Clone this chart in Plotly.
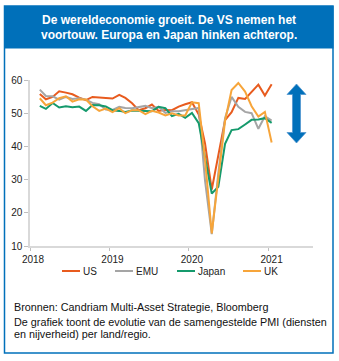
import plotly.graph_objects as go

# ---------------- data ----------------
months = [
    "2018-02-15", "2018-03-15", "2018-04-15", "2018-05-15", "2018-06-15", "2018-07-15",
    "2018-08-15", "2018-09-15", "2018-10-15", "2018-11-15", "2018-12-15",
    "2019-01-15", "2019-02-15", "2019-03-15", "2019-04-15", "2019-05-15", "2019-06-15",
    "2019-07-15", "2019-08-15", "2019-09-15", "2019-10-15", "2019-11-15", "2019-12-15",
    "2020-01-15", "2020-02-15", "2020-03-15", "2020-04-15", "2020-05-15", "2020-06-15",
    "2020-07-15", "2020-08-15", "2020-09-15", "2020-10-15", "2020-11-15", "2020-12-15",
    "2021-01-15",
]
us = [55.8, 54.2, 54.9, 56.6, 56.2, 55.7, 54.7, 53.9, 54.9, 54.7, 54.4,
      54.4, 55.5, 54.6, 53.0, 50.9, 51.5, 52.6, 50.7, 51.0, 50.9, 52.0, 52.7,
      53.3, 49.6, 40.9, 27.0, 37.0, 47.9, 50.3, 54.6, 54.3, 56.3, 58.6, 55.3,
      58.7]
emu = [57.1, 55.2, 55.1, 54.1, 54.9, 54.3, 54.5, 54.1, 53.1, 52.7, 51.1,
       51.0, 51.9, 51.6, 51.5, 51.8, 52.2, 51.5, 51.9, 50.1, 50.6, 50.6, 50.9,
       51.3, 51.6, 29.7, 13.6, 31.9, 48.5, 54.9, 51.9, 50.4, 50.0, 45.3, 49.1,
       47.8]
japan = [52.2, 51.3, 53.1, 51.7, 52.1, 51.8, 52.0, 50.7, 52.5, 52.4, 52.0,
         50.9, 50.7, 50.4, 50.8, 50.7, 50.8, 50.6, 51.9, 51.5, 49.1, 49.8, 48.6,
         50.1, 47.0, 36.2, 25.8, 27.8, 40.8, 44.9, 45.2, 46.6, 48.0, 48.1, 48.5,
         47.1]
uk = [54.5, 52.4, 53.2, 54.5, 55.1, 53.5, 54.2, 54.1, 52.1, 50.7, 51.4,
      50.3, 51.5, 50.0, 50.9, 50.9, 49.7, 50.7, 50.2, 49.3, 50.0, 49.3, 49.3,
      53.3, 53.0, 36.0, 13.8, 30.0, 47.7, 57.0, 59.1, 56.5, 52.1, 49.0, 50.4,
      41.2]

series_names = ["US", "EMU", "Japan", "UK"]
series_values = [us, emu, japan, uk]
series_colors = ["#E85B1E", "#A5A5A5", "#159A6C", "#F7A53A"]

year_ticks = ["2018-01-01", "2019-01-01", "2020-01-01", "2021-01-01"]
year_labels = ["2018", "2019", "2020", "2021"]

title_lines = ["De wereldeconomie groeit. De VS nemen het",
               "voortouw. Europa en Japan hinken achterop."]
footer_lines = ["Bronnen: Candriam Multi-Asset Strategie, Bloomberg",
                "De grafiek toont de evolutie van de samengestelde PMI (diensten",
                "en nijverheid) per land/regio."]

# ---------------- layout helpers ----------------
W, H = 339, 361
L, R, T, B = 30, 26, 80, 115
PW, PH = W - L - R, H - T - B
BLUE = "#0070BA"
FONT = "Liberation Sans, Arial, sans-serif"


def px(x):
    return (x - L) / PW


def py(y):
    return (H - B - y) / PH


fig = go.Figure()
for name, vals, col in zip(series_names, series_values, series_colors):
    fig.add_trace(go.Scatter(x=months, y=vals, mode="lines", name=name,
                             line=dict(color=col, width=2), showlegend=False))

shapes = []
annotations = []

# outer frame and banner
shapes.append(dict(type="rect", xref="paper", yref="paper",
                   x0=px(4.5), x1=px(333), y0=py(6), y1=py(353),
                   line=dict(color=BLUE, width=1.5), fillcolor="rgba(0,0,0,0)"))
shapes.append(dict(type="rect", xref="paper", yref="paper",
                   x0=px(4), x1=px(333.5), y0=py(48.5), y1=py(6),
                   line=dict(width=0), fillcolor=BLUE))
for i, t in enumerate(title_lines):
    annotations.append(dict(text="<b>%s</b>" % t, xref="paper", yref="paper",
                            x=px(168.5), y=py(20 + 15 * i), xanchor="center", yanchor="middle",
                            showarrow=False, font=dict(family=FONT, size=12, color="white")))

# double arrow
pts = [(296.5, 84), (306, 94.5), (300.5, 94.5), (300.5, 132.5), (306, 132.5),
       (296.5, 143), (287, 132.5), (292.5, 132.5), (292.5, 94.5), (287, 94.5)]
path = "M " + " L ".join("%.5f,%.5f" % (px(a), py(b)) for a, b in pts) + " Z"
shapes.append(dict(type="path", xref="paper", yref="paper", path=path,
                   fillcolor=BLUE, line=dict(color="#4F95CF", width=0.8)))

# legend
leg_x = [62, 115, 177, 243]
leg_y = 271
for lx, name, col in zip(leg_x, series_names, series_colors):
    shapes.append(dict(type="line", xref="paper", yref="paper",
                       x0=px(lx), x1=px(lx + 18), y0=py(leg_y), y1=py(leg_y),
                       line=dict(color=col, width=2)))
    annotations.append(dict(text=name, xref="paper", yref="paper",
                            x=px(lx + 19), y=py(leg_y), xanchor="left", yanchor="middle",
                            showarrow=False, font=dict(family=FONT, size=10, color="#222")))

# footer
for t, yy in zip(footer_lines, [306.5, 322, 333.5]):
    annotations.append(dict(text=t, xref="paper", yref="paper",
                            x=px(12), y=py(yy), xanchor="left", yanchor="middle",
                            showarrow=False, font=dict(family=FONT, size=10.8, color="#111")))

fig.update_layout(
    width=W, height=H,
    margin=dict(l=L, r=R, t=T, b=B, pad=0),
    paper_bgcolor="white", plot_bgcolor="white",
    font=dict(family=FONT, size=10, color="#222"),
    shapes=shapes, annotations=annotations,
    showlegend=False,
    xaxis=dict(type="date", range=["2018-01-01", "2021-07-24"],
               tickvals=year_ticks, ticktext=year_labels,
               ticks="outside", ticklen=3, tickcolor="#BFBFBF",
               showline=True, linecolor="#D9D9D9", linewidth=1.5,
               showgrid=False, zeroline=False, ticklabelshift=3,
               tickfont=dict(size=10, color="#222")),
    yaxis=dict(range=[10, 60], tickvals=[10, 20, 30, 40, 50, 60],
               ticks="outside", ticklen=4, tickcolor="#BFBFBF",
               showline=True, linecolor="#D9D9D9", linewidth=1.5,
               showgrid=False, zeroline=False,
               tickfont=dict(size=10, color="#222")),
)

fig.write_html("out.html")
